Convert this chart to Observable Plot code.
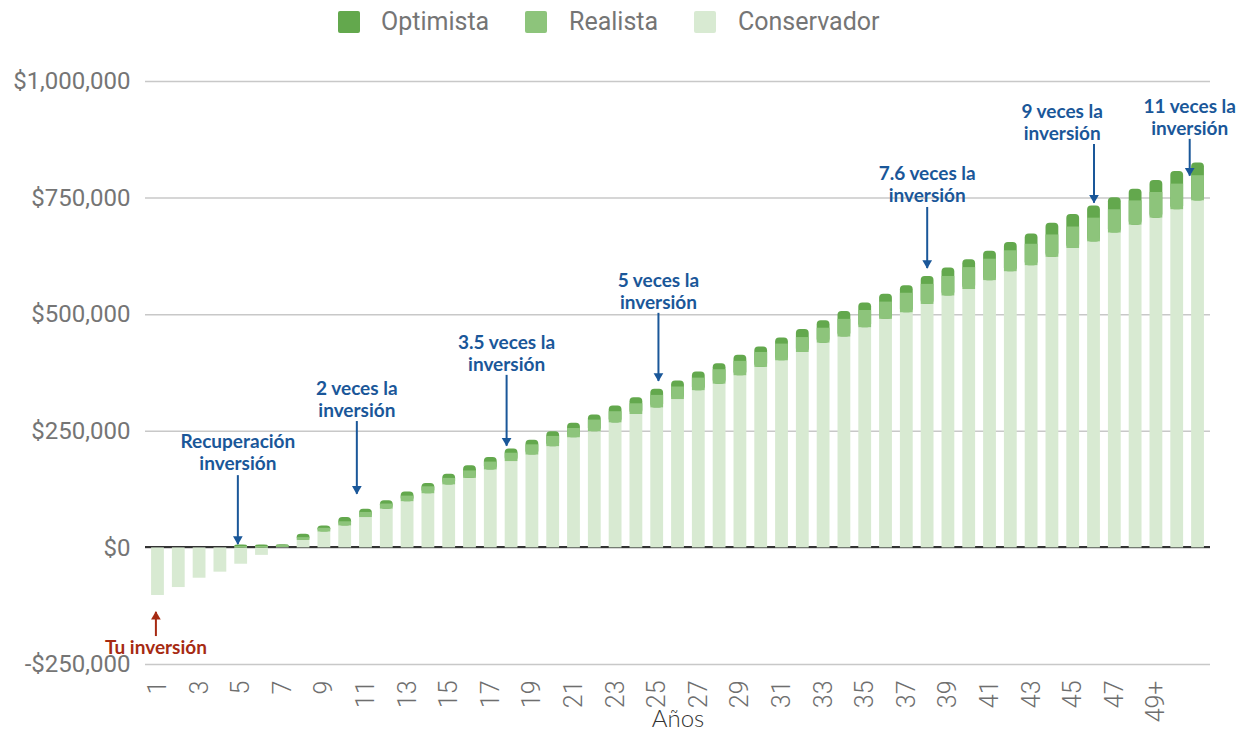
<!DOCTYPE html>
<html>
<head>
<meta charset="utf-8">
<script src="https://cdn.jsdelivr.net/npm/d3@7"></script>
<script src="https://cdn.jsdelivr.net/npm/@observablehq/plot@0.6"></script>
<style>
  body { margin: 0; background: #fff; }
  #legend { position: relative; height: 44px; width: 1237px; font-family: Roboto, sans-serif; font-size: 25px; color: #757575; }
  #legend .sw { position: absolute; top: 11px; width: 22px; height: 22px; border-radius: 2px; }
  #legend .lb { position: absolute; top: 0; line-height: 44px; }
  #chart svg { display: block; }
</style>
</head>
<body>
<div id="legend"></div>
<div id="chart"></div>
<script>
// ---- data ----
const years = [1,2,3,4,5,6,7,8,9,10,11,12,13,14,15,16,17,18,19,20,21,22,23,24,25,26,27,28,29,30,31,32,33,34,35,36,37,38,39,40,41,42,43,44,45,46,47,48,49,50,51];
// Conservador (base segment)
const conservador = [-102000,-85000,-65000,-52000,-35000,-16000,1000,16000,34000,47000,65000,83000,99000,116000,135000,149000,167000,185000,199000,217000,236000,249000,268000,286000,300000,318000,337000,351000,369000,387000,401000,419000,439000,452000,472000,490000,504000,522000,540000,554000,573000,592000,605000,623000,642000,656000,675000,692000,707000,725000,744000];
// Realista (stacked segment above Conservador)
const realista = [0,0,0,0,3000,3000,4000,6000,8000,9000,11000,11000,12000,15000,14000,16000,17000,18000,22000,22000,20000,25000,24000,23000,27000,27000,27000,31000,31000,32000,36000,32000,32000,38000,37000,37000,42000,43000,42000,47000,46000,45000,46000,48000,46000,51000,50000,52000,55000,55000,54000];
// Optimista (stacked segment on top)
const optimista = [0,0,0,0,3000,3000,2000,7000,5000,9000,7000,7000,9000,7000,9000,11000,10000,9000,10000,10000,11000,11000,12000,13000,13000,13000,13000,13000,13000,12000,13000,17000,16000,17000,16000,17000,16000,17000,18000,17000,17000,18000,22000,25000,27000,26000,26000,25000,26000,27000,27000];

const seriesNames = ["Optimista", "Realista", "Conservador"];
const seriesColors = ["#63a84d", "#8dc47b", "#d8ead2"];

const yTicks = [-250000, 0, 250000, 500000, 750000, 1000000];
const xTickYears = [1,3,5,7,9,11,13,15,17,19,21,23,25,27,29,31,33,35,37,39,41,43,45,47,49];
const xTickLabels = ["1","3","5","7","9","11","13","15","17","19","21","23","25","27","29","31","33","35","37","39","41","43","45","47","49+"];
const xTitle = "Años";

// annotations (text anchored in data space)
const noteText = ["Tu inversión", "Recuperación\ninversión", "2 veces la\ninversión", "3.5 veces la\ninversión", "5 veces la\ninversión", "7.6 veces la\ninversión", "9 veces la\ninversión", "11 veces la\ninversión"];
const noteX = [0.9, 4.84, 10.56, 17.76, 25.06, 37.98, 44.47, 50.6];
const noteY = [-212000, 206000, 320000, 418000, 550000, 780000, 913000, 923000];
const noteColor = ["#a62a12", "#1a5799", "#1a5799", "#1a5799", "#1a5799", "#1a5799", "#1a5799", "#1a5799"];
// arrows
const arrowX = [0.9, 4.84, 10.56, 17.76, 25.06, 37.98, 46.0, 50.6];
const arrowFrom = [-189000, 156000, 272000, 371000, 504000, 731000, 866000, 877000];
const arrowTo = [-137000, 8000, 116000, 219000, 358000, 600000, 740000, 798000];

// ---- build tables ----
const rects = [];
years.forEach((yr, i) => {
  const c = conservador[i], r = realista[i], o = optimista[i];
  const base = c < 0 ? 0 : c;
  rects.push({year: yr, layer: 0, series: "Conservador", y1: Math.min(0, c), y2: Math.max(0, c)});
  if (o > 0) rects.push({year: yr, layer: 1, series: "Optimista", y1: base, y2: base + r + o});
  if (r > 0) rects.push({year: yr, layer: 2, series: "Realista", y1: base, y2: base + r});
});
const notes = noteText.map((t, i) => ({text: t, x: noteX[i], y: noteY[i], color: noteColor[i]}));
const arrows = arrowX.map((x, i) => ({x, from: arrowFrom[i], to: arrowTo[i], color: noteColor[i], up: arrowTo[i] > arrowFrom[i] ? 0 : 1}));
const colorOf = Object.fromEntries(seriesNames.map((s, i) => [s, seriesColors[i]]));
const tickLabelOf = new Map(xTickYears.map((y, i) => [y, xTickLabels[i]]));
const money = d => (d < 0 ? "-$" : "$") + d3.format(",")(Math.abs(d));

// ---- legend ----
const legend = document.getElementById("legend");
const swLeft = [338, 525, 694], lbLeft = [381, 569, 738];
seriesNames.forEach((s, i) => {
  const sw = document.createElement("div");
  sw.className = "sw"; sw.style.left = swLeft[i] + "px"; sw.style.background = seriesColors[i];
  const lb = document.createElement("div");
  lb.className = "lb"; lb.style.left = lbLeft[i] + "px"; lb.textContent = s;
  legend.appendChild(sw); legend.appendChild(lb);
});

// ---- chart ----
const chart = Plot.plot({
  width: 1237,
  height: 692,
  marginTop: 37,
  marginBottom: 72,
  marginLeft: 145,
  marginRight: 27,
  style: {background: "#fff"},
  x: {type: "linear", domain: [0.4, 51.6]},
  y: {domain: [-250000, 1000000]},
  marks: [
    Plot.gridY(yTicks, {stroke: "#c8c8c8", strokeOpacity: 1, strokeWidth: 1.5}),
    Plot.ruleY([0], {stroke: "#333", strokeWidth: 2, dy: -1}),
    Plot.rect(rects.filter(d => d.layer === 0), {x1: d => d.year - 0.5, x2: d => d.year + 0.5, y1: "y1", y2: "y2", fill: d => colorOf[d.series], insetLeft: 4, insetRight: 4}),
    Plot.rect(rects.filter(d => d.layer === 1), {x1: d => d.year - 0.5, x2: d => d.year + 0.5, y1: "y1", y2: "y2", fill: d => colorOf[d.series], insetLeft: 4, insetRight: 4, rx: 4}),
    Plot.rect(rects.filter(d => d.layer === 2), {x1: d => d.year - 0.5, x2: d => d.year + 0.5, y1: "y1", y2: "y2", fill: d => colorOf[d.series], insetLeft: 4, insetRight: 4}),
    Plot.axisY(yTicks, {tickFormat: money, tickSize: 0, tickPadding: 15, fontSize: 24, fontFamily: "Roboto", fill: "#757575", label: null}),
    Plot.axisX(xTickYears, {tickFormat: d => tickLabelOf.get(d), tickRotate: -90, tickSize: 0, tickPadding: 16, fontSize: 25, fontFamily: "Roboto", fontWeight: 300, fill: "#6e6e6e", label: null}),
    Plot.text([xTitle], {frameAnchor: "bottom", lineAnchor: "middle", dy: 55, fontSize: 24, fontFamily: "Lato", fontWeight: 300, fill: "#333"}),
    Plot.link(arrows, {x1: "x", x2: "x", y1: "from", y2: "to", stroke: "color", strokeWidth: 2}),
    Plot.dot(arrows.filter(d => d.up === 1), {x: "x", y: "to", symbol: "triangle", rotate: 180, r: 3.6, fill: "color", stroke: null, dy: -5}),
    Plot.dot(arrows.filter(d => d.up === 0), {x: "x", y: "to", symbol: "triangle", rotate: 0, r: 3.6, fill: "color", stroke: null, dy: 5}),
    Plot.text(notes, {x: "x", y: "y", text: "text", fill: "color", fontSize: 19, fontWeight: "bold", fontFamily: "Lato", lineHeight: 1.16})
  ]
});
document.getElementById("chart").appendChild(chart);
</script>
</body>
</html>
